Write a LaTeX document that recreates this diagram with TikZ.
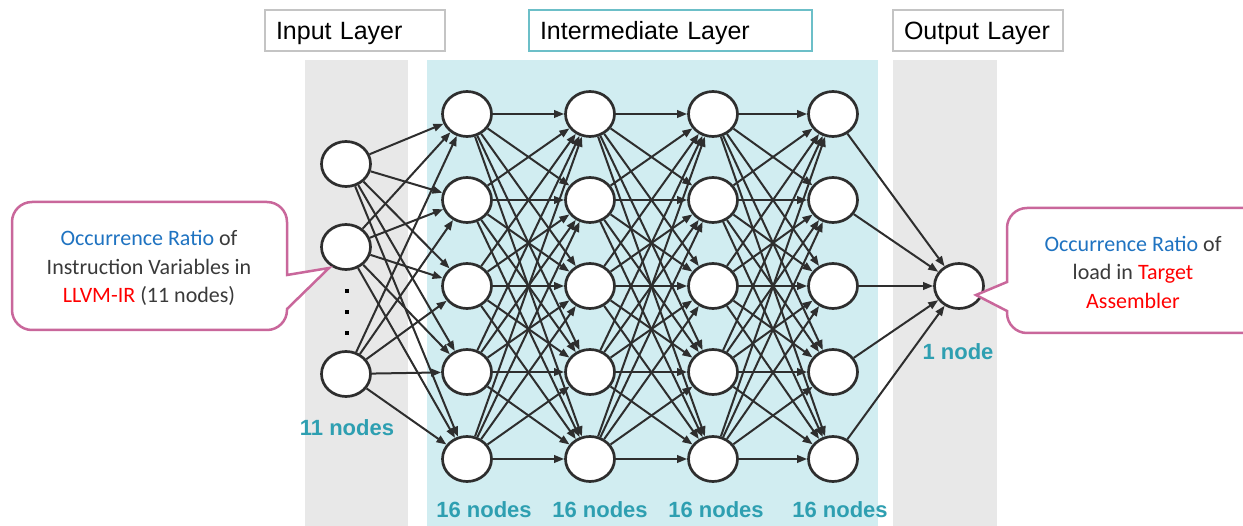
\documentclass[tikz,border=0pt]{standalone}
\usepackage{fontspec}
\setmainfont{Liberation Sans}
\newfontfamily\calfont{Carlito}
\usetikzlibrary{arrows.meta,shapes.geometric}
\definecolor{bandgray}{HTML}{E8E8E8}
\definecolor{bandcyan}{HTML}{D1EDF1}
\definecolor{edgegray}{HTML}{2E2E2E}
\definecolor{countteal}{HTML}{2E9FB1}
\definecolor{calloutpink}{HTML}{C9679B}
\definecolor{ratioblue}{HTML}{1F73C1}
\definecolor{darktext}{HTML}{3A3A3A}
\definecolor{framegray}{HTML}{C4C4C4}
\definecolor{frameteal}{HTML}{6CBFC8}
\definecolor{accentred}{HTML}{FF0000}
\begin{document}
\begin{tikzpicture}[x=1pt,y=-1pt,
  neuron/.style={ellipse, draw=edgegray, line width=2.7pt, fill=white,
    minimum width=49pt, minimum height=45pt, inner sep=0pt},
  link/.style={draw=edgegray, line width=2pt, -{Triangle[length=10pt,width=7.5pt]}},
  titlebox/.style={draw=framegray, line width=1.5pt, fill=white, minimum height=41pt,
    inner xsep=11pt, inner ysep=0pt, text height=25pt, text depth=6pt,
    align=left, font=\fontsize{25}{30}\selectfont},
  count/.style={text=countteal, font=\bfseries\fontsize{22}{26}\selectfont},
  callout/.style={draw=calloutpink, line width=2.5pt, fill=white},
  callouttext/.style={align=center, text=darktext, font=\calfont\fontsize{22}{28.5}\selectfont},
  dotmark/.style={fill=black, minimum size=4pt, inner sep=0pt, rectangle}
]
\clip (0,0) rectangle (1243,526);
\fill[white] (0,0) rectangle (1243,526);

% layer bands
\fill[bandgray] (305,60) rectangle (408,526);
\fill[bandcyan] (427,60) rectangle (878,526);
\fill[bandgray] (893,60) rectangle (997,526);

% layer titles
\node (tin) [titlebox, text width=158pt] at (355,30.5) {Input Layer};
\node (tmid) [titlebox, draw=frameteal, text width=261pt] at (670.5,30.5) {Intermediate Layer};
\node (tout) [titlebox, text width=148pt] at (978,30.5) {Output Layer};

% input layer
\node (in1) [neuron] at (346,164) {};
\node (in2) [neuron] at (346,247) {};
\node (in3) [neuron] at (346,374) {};
\node (d1) [dotmark] at (347,291) {};
\node (d2) [dotmark] at (347,312) {};
\node (d3) [dotmark] at (347,333) {};

% intermediate layers
\foreach \c/\x in {1/467,2/590,3/713,4/833}
  \foreach \r/\y in {1/114,2/200,3/286,4/372,5/459}
    \node (h\c-\r) [neuron] at (\x,\y) {};

% output layer
\node (out) [neuron] at (959,286) {};

% connections
\foreach \i in {1,2,3}
  \foreach \r in {1,...,5}
    \draw[link] (in\i) -- (h1-\r);
\foreach \c [evaluate=\c as \n using int(\c+1)] in {1,2,3}
  \foreach \r in {1,...,5}
    \foreach \s in {1,...,5}
      \draw[link] (h\c-\r) -- (h\n-\s);
\foreach \r in {1,...,5}
  \draw[link] (h4-\r) -- (out);

% node counts
\node (c11) [count] at (347,428) {11 nodes};
\node (c16a) [count] at (484,510) {16 nodes};
\node (c16b) [count] at (600,510) {16 nodes};
\node (c16c) [count] at (716,510) {16 nodes};
\node (c16d) [count] at (840,510) {16 nodes};
\node (c1) [count] at (958,352) {1 node};

% callouts (corner rounding follows the segment that reaches each corner)
\draw[callout] (150,202) [rounded corners=20pt] -- (287,202)
  [sharp corners] -- (287,275) -- (329,268) -- (287,309)
  [rounded corners=20pt] -- (287,330) -- (12,330) -- (12,202) -- cycle;
\node (lefttext) [callouttext] at (149,268)
  {\textcolor{ratioblue}{Occurrence Ratio} of\\Instruction Variables in\\\textcolor{accentred}{LLVM-IR} (11 nodes)};

\draw[callout] (1130,208) [rounded corners=20pt] -- (1007,208)
  [sharp corners] -- (1007,282) -- (976,295) -- (1007,311)
  [rounded corners=20pt] -- (1007,333) -- (1265,333) -- (1265,208) -- cycle;
\node (righttext) [callouttext] at (1133,272)
  {\textcolor{ratioblue}{Occurrence Ratio} of\\load in \textcolor{accentred}{Target}\\\textcolor{accentred}{Assembler}};
\end{tikzpicture}
\end{document}
